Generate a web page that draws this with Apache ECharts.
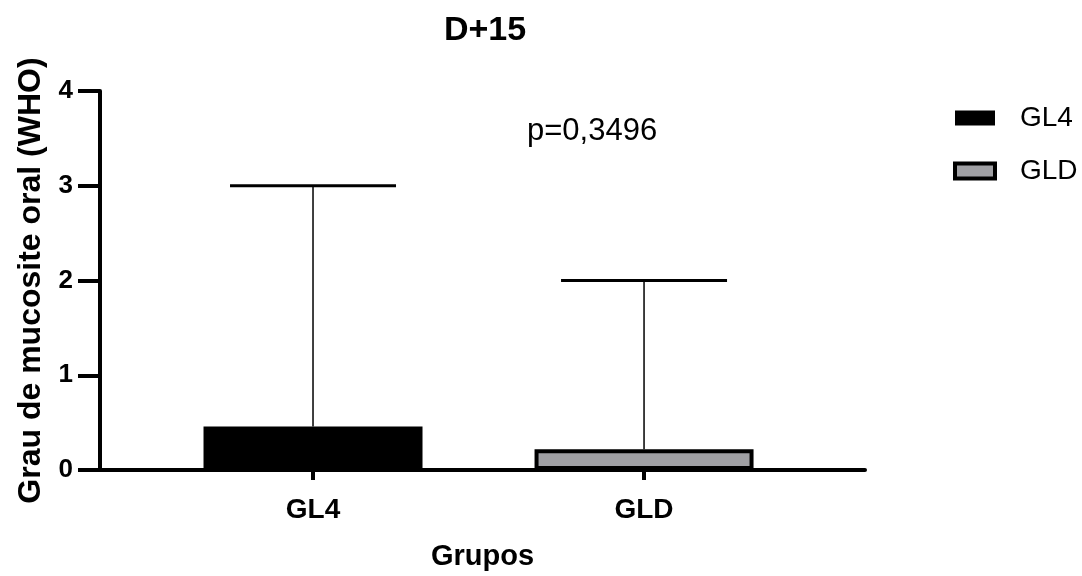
<!DOCTYPE html>
<html>
<head>
<meta charset="utf-8">
<script src="https://cdn.jsdelivr.net/npm/echarts@6/dist/echarts.min.js"></script>
<style>
  html, body { margin: 0; padding: 0; background: #fff; }
  #chart { width: 1082px; height: 576px; }
</style>
</head>
<body>
<div id="chart"></div>
<script>
// dados
const groups = ['GL4', 'GLD']
const groupPos = [0.6435, 1.6435]
const means = [0.46, 0.22]
const maxVals = [3, 2]
const barColors = ['#000000', '#A0A0A4']
const yTicks = [0, 1, 2, 3, 4]
const pText = 'p=0,3496'

const FONT = 'Liberation Sans, Arial, sans-serif'
const chart = echarts.init(document.getElementById('chart'))

const barSeries = groups.map((g, i) => ({
  name: g,
  type: 'bar',
  data: [[groupPos[i], means[i]]],
  barWidth: 219,
  barGap: '-100%',
  itemStyle: {
    color: barColors[i],
    borderColor: '#000',
    borderWidth: i === 0 ? 0 : 4
  },
  z: 2
}))

// barra de erro (só a parte de cima)
const errSeries = {
  type: 'custom',
  silent: true,
  z: 3,
  data: groups.map((g, i) => [groupPos[i], means[i], maxVals[i]]),
  renderItem: (params, api) => {
    const base = api.coord([api.value(0), api.value(1)])
    const top = api.coord([api.value(0), api.value(2)])
    const half = 83
    return {
      type: 'group',
      children: [
        {
          type: 'line',
          shape: { x1: base[0], y1: base[1], x2: top[0], y2: top[1] },
          style: { stroke: '#000', lineWidth: 1.5 }
        },
        {
          type: 'line',
          shape: { x1: top[0] - half, y1: top[1], x2: top[0] + half, y2: top[1] },
          style: { stroke: '#000', lineWidth: 3 }
        }
      ]
    }
  }
}

chart.setOption({
  animation: false,
  textStyle: { fontFamily: FONT },
  title: {
    text: 'D+15',
    left: 485,
    textAlign: 'center',
    top: 14,
    padding: 0,
    textStyle: { fontSize: 34, fontWeight: 'bold', color: '#000', fontFamily: FONT }
  },
  grid: { left: 100, right: 217, top: 91, bottom: 104 },
  legend: {
    orient: 'vertical',
    left: 953,
    top: 104,
    padding: 0,
    icon: 'rect',
    itemWidth: 40,
    itemHeight: 15,
    itemGap: 25,
    textStyle: { fontSize: 28, color: '#000', fontFamily: FONT, padding: [0, 0, 0, 20] },
    data: groups.map((g, i) => ({
      name: g,
      itemStyle: { color: barColors[i], borderColor: '#000', borderWidth: i === 0 ? 0 : 4 }
    }))
  },
  xAxis: {
    type: 'value',
    min: 0,
    max: 2.311,
    name: 'Grupos',
    nameLocation: 'middle',
    nameGap: 72,
    nameTextStyle: { fontSize: 29, fontWeight: 'bold', color: '#000', fontFamily: FONT },
    splitLine: { show: false },
    axisLine: { show: true, onZero: false, lineStyle: { color: '#000', width: 4 } },
    axisTick: {
      show: true,
      length: 10,
      lineStyle: { color: '#000', width: 4 },
      customValues: groupPos
    },
    axisLabel: {
      customValues: groupPos,
      formatter: (v) => groups[groupPos.findIndex((p) => Math.abs(p - v) < 1e-6)] || '',
      fontSize: 28,
      fontWeight: 'bold',
      color: '#000',
      margin: 26,
      fontFamily: FONT
    }
  },
  yAxis: {
    type: 'value',
    min: 0,
    max: 4,
    interval: 1,
    name: 'Grau de mucosite oral (WHO)',
    nameLocation: 'middle',
    nameGap: 52,
    nameTextStyle: { fontSize: 32, fontWeight: 'bold', color: '#000', fontFamily: FONT },
    splitLine: { show: false },
    axisLine: { show: true, lineStyle: { color: '#000', width: 4 } },
    axisTick: { show: true, length: 22, lineStyle: { color: '#000', width: 4 } },
    axisLabel: {
      fontSize: 26,
      fontWeight: 'bold',
      color: '#000',
      margin: 27,
      fontFamily: FONT,
      formatter: (v) => (yTicks.includes(v) ? String(v) : '')
    }
  },
  graphic: [
    {
      type: 'text',
      left: 527,
      top: 116,
      style: { text: pText, fontSize: 31, fill: '#000', fontFamily: FONT }
    }
  ],
  series: [...barSeries, errSeries]
})
</script>
</body>
</html>
